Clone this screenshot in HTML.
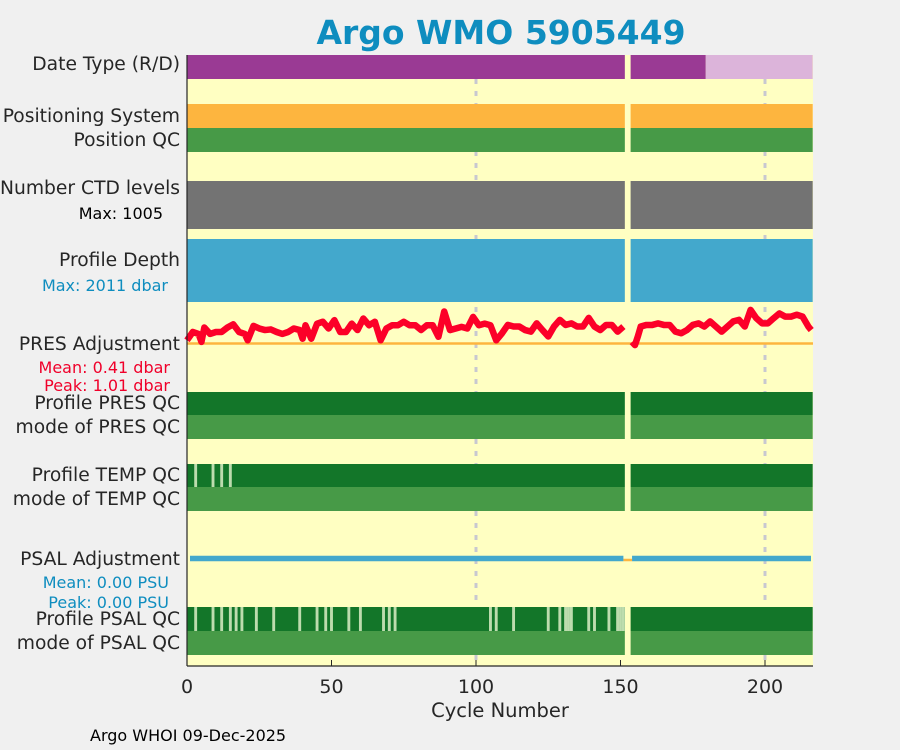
<!DOCTYPE html>
<html><head><meta charset="utf-8">
<style>
body{margin:0;background:#f0f0f0;width:900px;height:750px;overflow:hidden;font-family:"DejaVu Sans","Liberation Sans",sans-serif;}
svg{display:block}
</style></head><body>
<svg id="chart" width="900" height="750" font-family="DejaVu Sans, Liberation Sans, sans-serif">
<text x="501" y="44" text-anchor="middle" font-size="33" font-weight="bold" fill="#0e8dbf">Argo WMO 5905449</text>
<rect x="187" y="55" width="626" height="611" fill="#ffffc2"/>
<g id="grid"></g>
<g id="bands"></g>
<g id="lines"></g>
<g id="axis"></g>
<g fill="#262626" font-size="18.7" text-anchor="end">
<text x="180" y="70">Date Type (R/D)</text>
<text x="180" y="122">Positioning System</text>
<text x="180" y="146">Position QC</text>
<text x="180" y="194">Number CTD levels</text>
<text x="163" y="219" font-size="16" fill="#000">Max: 1005</text>
<text x="180" y="266">Profile Depth</text>
<text x="168" y="291" font-size="16" fill="#0e8dbf">Max: 2011 dbar</text>
<text x="180" y="350">PRES Adjustment</text>
<text x="170" y="373" font-size="16" fill="#f0002a">Mean: 0.41 dbar</text>
<text x="170" y="391" font-size="16" fill="#f0002a">Peak: 1.01 dbar</text>
<text x="180" y="409">Profile PRES QC</text>
<text x="180" y="433">mode of PRES QC</text>
<text x="180" y="481">Profile TEMP QC</text>
<text x="180" y="505">mode of TEMP QC</text>
<text x="180" y="565">PSAL Adjustment</text>
<text x="169" y="588" font-size="16" fill="#0e8dbf">Mean: 0.00 PSU</text>
<text x="169" y="608" font-size="16" fill="#0e8dbf">Peak: 0.00 PSU</text>
<text x="180" y="625">Profile PSAL QC</text>
<text x="180" y="649">mode of PSAL QC</text>
</g>
<text x="500" y="717" text-anchor="middle" font-size="19.5" fill="#262626">Cycle Number</text>
<text x="90" y="741" font-size="16" fill="#000">Argo WHOI 09-Dec-2025</text>
</svg>
<script>
const segments = [[0,151],[154,216]];
const realtimeEnd = 179;
const tempLight = [3,9,12,15];
const psalLight = [3,9,12,15,17,19,24,30,39,45,48,50,56,60,68,70,72,105,107,113,125,129,131,132,133,139,141,146,149,150,151];
const presCycles = [0,2,4,5,6,8,10,12,14,16,18,20,21,23,25,27,29,31,33,35,37,39,40,41,43,45,47,49,51,53,55,57,59,61,63,65,67,69,71,73,75,77,79,81,83,85,87,89,91,93,95,97,99,101,103,105,107,109,111,113,115,117,119,121,123,125,127,129,131,133,135,137,139,141,143,145,147,149,151];
const presValues = [0.1,0.36,0.3,0.05,0.5,0.3,0.36,0.36,0.5,0.6,0.36,0.3,0.1,0.55,0.47,0.42,0.44,0.36,0.3,0.36,0.47,0.42,0.15,0.57,0.15,0.62,0.68,0.47,0.73,0.36,0.36,0.62,0.42,0.78,0.57,0.68,0.1,0.47,0.57,0.57,0.68,0.57,0.57,0.42,0.57,0.57,0.21,1.0,0.42,0.47,0.52,0.47,0.83,0.57,0.62,0.57,0.1,0.32,0.58,0.53,0.53,0.42,0.37,0.63,0.42,0.22,0.53,0.74,0.58,0.63,0.53,0.53,0.8,0.53,0.42,0.58,0.58,0.37,0.53];
const presCycles2 = [154,155,156,157,159,161,163,165,167,169,171,173,175,177,179,181,183,185,187,189,191,193,195,197,199,201,203,205,207,209,211,213,215,216];
const presValues2 = [0.05,-0.05,0.22,0.53,0.58,0.58,0.63,0.58,0.58,0.37,0.32,0.42,0.58,0.63,0.53,0.69,0.53,0.37,0.53,0.69,0.74,0.53,1.05,0.79,0.63,0.63,0.79,0.94,0.84,0.84,0.9,0.84,0.53,0.42];
const psalValues = [0,0];
const xTicks = [0,50,100,150,200];

const NS='http://www.w3.org/2000/svg';
const X0=187,X1=813,PX=2.89;
function xs(c){return X0+PX*c;}
function ys(v){return 343.5-32*v;}
function mk(tag,attrs,parent){const e=document.createElementNS(NS,tag);for(const k in attrs)e.setAttribute(k,attrs[k]);parent.appendChild(e);return e;}
const grid=document.getElementById('grid'),bands=document.getElementById('bands'),lines=document.getElementById('lines'),axis=document.getElementById('axis');

[100,200].forEach(t=>{
  const l=mk('line',{x1:xs(t),x2:xs(t),y1:55,y2:666,stroke:'#c8c8d0','stroke-width':3,'stroke-dasharray':'5,7'},grid);
  
  
});
function segRect(a,b,y,h,fill,name){
  const x1=Math.max(X0,xs(a-0.5)),x2=Math.min(X1,xs(b+0.5));
  if(x2<=x1)return;
  const r=mk('rect',{x:x1,y:y,width:x2-x1,height:h,fill:fill},bands);
  
  
}
segments.forEach(s=>{
  segRect(s[0],Math.min(s[1],realtimeEnd),55,24,'#9a3a94','date-type-realtime');
  if(s[1]>realtimeEnd)segRect(Math.max(s[0],realtimeEnd+1),s[1],55,24,'#dcb4da','date-type-delayed');
  segRect(s[0],s[1],104,24,'#fdb53f','positioning-system-band');
  segRect(s[0],s[1],128,24,'#479a47','position-qc-band');
  segRect(s[0],s[1],181,48,'#737373','ctd-levels-band');
  segRect(s[0],s[1],239,63,'#43a8cc','profile-depth-band');
  segRect(s[0],s[1],392,23,'#137629','pres-qc-band');
  segRect(s[0],s[1],415,24,'#479a47','pres-mode-band');
  segRect(s[0],s[1],464,23,'#137629','temp-qc-band');
  segRect(s[0],s[1],487,24,'#479a47','temp-mode-band');
  segRect(s[0],s[1],607,24,'#137629','psal-qc-band');
  segRect(s[0],s[1],631,24,'#479a47','psal-mode-band');
});
tempLight.forEach(c=>segRect(c,c,464,23,'#bddcae','temp-qc-flag'));
psalLight.forEach(c=>segRect(c,c,607,24,'#bddcae','psal-qc-flag'));

const base=mk('line',{x1:X0,x2:X1,y1:ys(0),y2:ys(0),stroke:'#fdb53f','stroke-width':2.5},lines);


function poly(cs,vs,name){
  const p=mk('polyline',{points:cs.map((c,i)=>xs(c)+','+ys(vs[i])).join(' '),fill:'none',stroke:'#fc0028','stroke-width':6.5,'stroke-linejoin':'round'},lines);
  
  
}
poly(presCycles,presValues,'pres-adjustment-line-1');
poly(presCycles2,presValues2,'pres-adjustment-line-2');
const og=mk('line',{x1:xs(151),x2:xs(154),y1:560,y2:560,stroke:'#fdb53f','stroke-width':2.5},lines);


segments.forEach(s=>{
  const l=mk('line',{x1:Math.max(X0+3,xs(s[0])),x2:Math.min(X1-2,xs(s[1])),y1:558.5-psalValues[0]*30,y2:558.5-psalValues[1]*30,stroke:'#43a8cc','stroke-width':5.5},lines);
  
  
});

const ax=mk('line',{x1:X0,x2:X1,y1:666,y2:666,stroke:'#262626','stroke-width':1.2},axis);


const ay=mk('line',{x1:X0,x2:X0,y1:55,y2:666,stroke:'#262626','stroke-width':1.2},axis);


xTicks.forEach(t=>{
  const tk=mk('line',{x1:xs(t),x2:xs(t),y1:666,y2:660,stroke:'#262626','stroke-width':1},axis);
  
  
  const tl=mk('text',{x:xs(t),y:693,'text-anchor':'middle','font-size':19,fill:'#262626'},axis);
  tl.textContent=t;
  
  
});
</script>
</body></html>
